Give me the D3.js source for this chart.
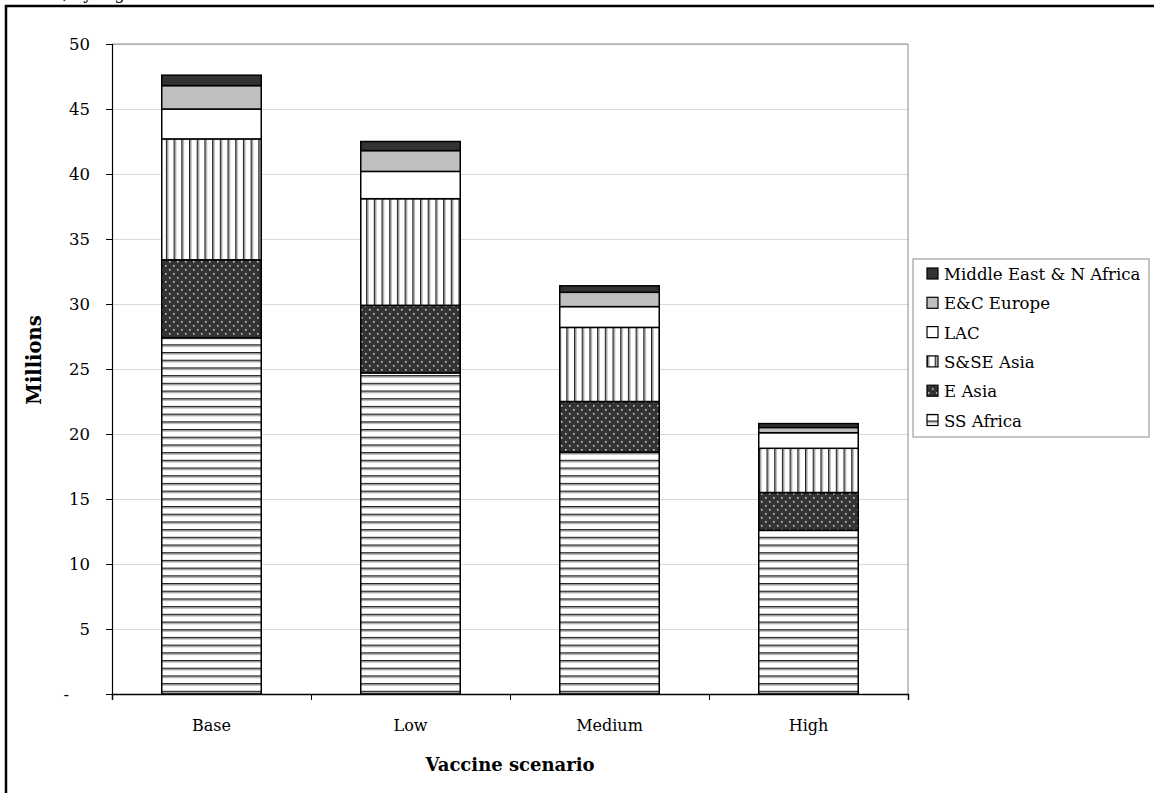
<!DOCTYPE html>
<html>
<head>
<meta charset="utf-8">
<script src="https://cdn.jsdelivr.net/npm/d3@7"></script>
<style>
  body { margin: 0; background: #fff; }
  svg text { font-family: "DejaVu Serif", "Liberation Serif", serif; fill: #000; }
  .grid line { stroke: #d9d9d9; }
  .grid path { display: none; }
</style>
</head>
<body>
<script>
// Categories and series (millions)
var scenarios = ["Base", "Low", "Medium", "High"];
var regions = ["SS Africa", "E Asia", "S&SE Asia", "LAC", "E&C Europe", "Middle East & N Africa"];
var ssAfrica = [27.4, 24.7, 18.6, 12.6];
var eAsia    = [6.0, 5.2, 3.9, 2.9];
var sseAsia  = [9.3, 8.2, 5.7, 3.4];
var lac      = [2.3, 2.1, 1.6, 1.2];
var ecEurope = [1.8, 1.6, 1.1, 0.4];
var meAfrica = [0.8, 0.7, 0.5, 0.3];
var yTicks = [0, 5, 10, 15, 20, 25, 30, 35, 40, 45, 50];

var series = [ssAfrica, eAsia, sseAsia, lac, ecEurope, meAfrica];
var table = scenarios.map(function(s, i) {
    var row = {scenario: s};
    regions.forEach(function(r, j) { row[r] = series[j][i]; });
    return row;
});

// Set the dimensions of the canvas / graph
var W = 1154, H = 793;
var margin = {top: 44, left: 112},
    width = 796,
    height = 650;

var svg = d3.select("body").append("svg")
    .attr("width", W)
    .attr("height", H);

// fill patterns
var defs = svg.append("defs");
var hp = defs.append("pattern").attr("id", "pHoriz")
    .attr("patternUnits", "userSpaceOnUse").attr("width", 8).attr("height", 7.7);
hp.append("rect").attr("width", 8).attr("height", 7.7).attr("fill", "#fff");
hp.append("rect").attr("y", 0).attr("width", 8).attr("height", 1.2).attr("fill", "#222");
hp.append("rect").attr("y", 1.2).attr("width", 8).attr("height", 1.2).attr("fill", "#888");

var vp = defs.append("pattern").attr("id", "pVert")
    .attr("patternUnits", "userSpaceOnUse").attr("width", 7.7).attr("height", 8);
vp.append("rect").attr("width", 7.7).attr("height", 8).attr("fill", "#fff");
vp.append("rect").attr("x", 0).attr("width", 1.2).attr("height", 8).attr("fill", "#222");
vp.append("rect").attr("x", 1.2).attr("width", 1.2).attr("height", 8).attr("fill", "#888");

var dp = defs.append("pattern").attr("id", "pDots")
    .attr("patternUnits", "userSpaceOnUse").attr("width", 8).attr("height", 8);
dp.append("rect").attr("width", 8).attr("height", 8).attr("fill", "#333");
dp.append("rect").attr("x", 1).attr("y", 1).attr("width", 1.6).attr("height", 1.6).attr("fill", "#ccc");
dp.append("rect").attr("x", 5).attr("y", 5).attr("width", 1.6).attr("height", 1.6).attr("fill", "#ccc");

var fills = ["url(#pHoriz)", "url(#pDots)", "url(#pVert)", "#fff", "#c0c0c0", "#333"];
var color = d3.scaleOrdinal().domain(regions).range(fills);

// outer frame
svg.append("rect")
    .attr("x", 6).attr("y", 6).attr("width", W + 20).attr("height", H + 20)
    .attr("fill", "none").attr("stroke", "#000").attr("stroke-width", 2.5);

// cut-off title line at the very top
svg.append("text")
    .attr("x", 22).attr("y", -1)
    .style("font-size", "16px")
    .text("2030, by region and vaccine scenario");

var g = svg.append("g")
    .attr("transform", "translate(" + margin.left + "," + margin.top + ")");

// Set the ranges
var x = d3.scaleBand().domain(scenarios).range([0, width]).paddingInner(0.5).paddingOuter(0.25);
var y = d3.scaleLinear().domain([0, 50]).range([height, 0]);

// gridlines
g.append("g").attr("class", "grid")
    .call(d3.axisLeft(y).tickValues(yTicks.slice(1)).tickSize(-width).tickFormat(""));

// plot area border (right and top)
g.append("path")
    .attr("d", "M0,0H" + width + "V" + height)
    .attr("fill", "none").attr("stroke", "#8c8c8c").attr("stroke-width", 1);

// stacked bars
var stack = d3.stack().keys(regions);
var layers = stack(table);

g.selectAll(".layer")
    .data(layers)
    .enter().append("g")
        .attr("class", "layer")
        .attr("fill", function(d) { return color(d.key); })
    .selectAll("rect")
    .data(function(d) { return d; })
    .enter().append("rect")
        .attr("x", function(d) { return x(d.data.scenario); })
        .attr("y", function(d) { return y(d[1]); })
        .attr("width", x.bandwidth())
        .attr("height", function(d) { return y(d[0]) - y(d[1]); })
        .attr("stroke", "#000")
        .attr("stroke-width", 1.5);

// y axis
var yAxis = d3.axisLeft(y).tickValues(yTicks).tickSize(6).tickPadding(16)
    .tickFormat(function(d) { return d === 0 ? "-" : d; });
var ya = g.append("g").call(yAxis);
ya.select(".domain").attr("stroke", "#000").attr("stroke-width", 1.2);
ya.selectAll(".tick line").attr("stroke", "#000");
ya.selectAll(".tick text").style("font-size", "16.5px")
    .attr("dx", function(d) { return d === 0 ? -21 : 0; });

// x axis: ticks sit between categories
var xb = d3.scaleLinear().domain([0, scenarios.length]).range([0, width]);
var xa = g.append("g").attr("transform", "translate(0," + height + ")")
    .call(d3.axisBottom(xb).ticks(scenarios.length).tickSize(6).tickFormat(""));
xa.select(".domain").attr("stroke", "#000").attr("stroke-width", 1.5);
xa.selectAll(".tick line").attr("stroke", "#000");

g.selectAll(".xlabel")
    .data(scenarios)
    .enter().append("text")
        .attr("class", "xlabel")
        .attr("x", function(d) { return x(d) + x.bandwidth() / 2; })
        .attr("y", height + 37)
        .style("text-anchor", "middle")
        .style("font-size", "16px")
        .text(function(d) { return d; });

// axis titles
svg.append("text")
    .attr("x", margin.left + width / 2)
    .attr("y", 771)
    .style("text-anchor", "middle")
    .style("font-size", "18px")
    .style("font-weight", "bold")
    .text("Vaccine scenario");

svg.append("text")
    .attr("transform", "translate(41,360) rotate(-90)")
    .style("text-anchor", "middle")
    .style("font-size", "19.5px")
    .style("font-weight", "bold")
    .text("Millions");

// legend
var legend = svg.append("g").attr("transform", "translate(913,259)");
legend.append("rect")
    .attr("width", 236).attr("height", 178)
    .attr("fill", "#fff").attr("stroke", "#8c8c8c").attr("stroke-width", 1);

var items = legend.selectAll(".item")
    .data(regions.slice().reverse())
    .enter().append("g")
        .attr("class", "item")
        .attr("transform", function(d, i) { return "translate(14," + (15 + i * 29.3) + ")"; });

items.append("rect")
    .attr("x", 0).attr("y", -6)
    .attr("width", 11).attr("height", 11)
    .attr("fill", function(d) { return color(d); })
    .attr("stroke", "#000").attr("stroke-width", 1.2);

items.append("text")
    .attr("x", 17).attr("y", 6)
    .style("font-size", "16.6px")
    .text(function(d) { return d; });
</script>
</body>
</html>
